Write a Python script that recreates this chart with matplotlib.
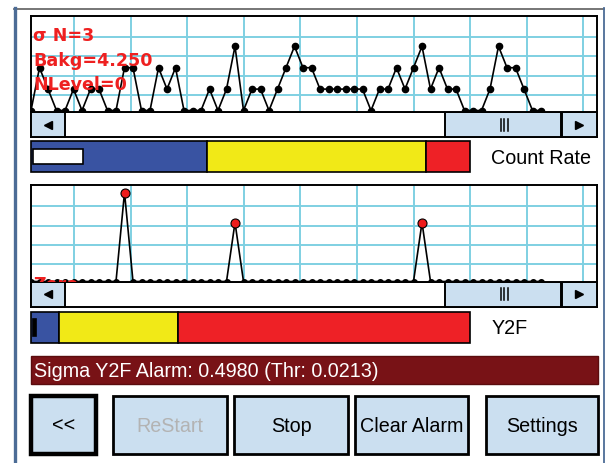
#!/usr/bin/env python3
# count rate / Y2F monitor screen

import numpy as np
import matplotlib.pyplot as plt
from matplotlib.patches import Rectangle

W, H = 608, 464

# --- data ---
count_rate = [0, 2, 1, 0, 0, 1, 0, 1, 1, 0, 0, 2, 2, 0, 0, 2, 1, 2, 0, 0,
              0, 1, 0, 1, 3, 0, 1, 1, 0, 1, 2, 3, 2, 2, 1, 1, 1, 1, 1, 1,
              0, 1, 1, 2, 1, 2, 3, 1, 2, 1, 1, 0, 0, 0, 1, 3, 2, 2, 1, 0, 0]
y2f = [0, 0, 0, 0, 0, 0, 0, 0, 0, 0, 0, 0.498, 0, 0, 0, 0, 0, 0, 0, 0,
       0, 0, 0, 0, 0.330, 0, 0, 0, 0, 0, 0, 0, 0, 0, 0, 0, 0, 0, 0, 0,
       0, 0, 0, 0, 0, 0, 0.330, 0, 0, 0, 0, 0, 0, 0, 0, 0, 0, 0, 0, 0, 0]
alarm_thr = 0.0213

info_lines = ["σ N=3", "Bakg=4.250", "NLevel=0"]
zero_label = "Zero"

count_rate_zones = [40.1, 49.9, 10.0]
count_rate_level = 11.4
y2f_zones = [6.4, 27.1, 66.5]
y2f_level = 0.7

bar_labels = ["Count Rate", "Y2F"]
alarm_text = "Sigma Y2F Alarm: 0.4980 (Thr: 0.0213)"
buttons = ["<<", "ReStart", "Stop", "Clear Alarm", "Settings"]

# --- styling ---
LIGHT = "#cbdff0"
GRID = "#7fd0e2"
RED_TXT = "#ee2020"
ZONE_COLORS = ["#3953a2", "#f1e917", "#ee2126"]

plt.rcParams["font.family"] = ["Liberation Sans", "DejaVu Sans"]

fig = plt.figure(figsize=(W / 100, H / 100), dpi=100)
canvas = fig.add_axes([0, 0, 1, 1])
canvas.set_xlim(0, W)
canvas.set_ylim(H, 0)
canvas.axis("off")


def box(x0, y0, x1, y1):
    return [x0 / W, 1 - y1 / H, (x1 - x0) / W, (y1 - y0) / H]


STEP = 8.5  # px per sample


def chart(y0, y1, ymin, ymax, grid_py):
    ax = fig.add_axes(box(31, y0, 597, y1))
    ax.set_xlim(0, 566 / STEP)
    ax.set_ylim(ymin, ymax)
    gx = [(px - 31) / STEP for px in 74 + 56.6 * np.arange(10)]
    gy = [ymin + (y1 - py) / (y1 - y0) * (ymax - ymin) for py in grid_py]
    ax.set_xticks(gx)
    ax.set_yticks(gy)
    ax.tick_params(length=0, labelbottom=False, labelleft=False)
    ax.grid(True, color=GRID, lw=1.4)
    ax.set_axisbelow(True)
    for s in ax.spines.values():
        s.set_linewidth(1.4)
    return ax


def scrollbar(y0, y1):
    h = y1 - y0
    ym = (y0 + y1) / 2
    canvas.add_patch(Rectangle((31, y0), 566, h, fc="white", ec="black", lw=1.4))
    canvas.add_patch(Rectangle((31, y0), 34, h, fc=LIGHT, ec="black", lw=1.4))
    canvas.add_patch(Rectangle((445, y0), 116, h, fc=LIGHT, ec="black", lw=1.4))
    canvas.add_patch(Rectangle((562, y0), 35, h, fc=LIGHT, ec="black", lw=1.4))
    canvas.plot([48], [ym], marker="<", ms=5.5, color="black")
    canvas.plot([579], [ym], marker=">", ms=5.5, color="black")
    for gxp in (500.5, 504, 507.5):
        canvas.plot([gxp, gxp], [ym - 6, ym + 6], color="black", lw=1.1)


def level_bar(y0, y1, zones, level, fc, frac):
    ax = fig.add_axes(box(31, y0, 470, y1))
    ax.set_xlim(0, 100)
    ax.set_ylim(0, 1)
    ax.axis("off")
    left = 0
    for w, c in zip(zones, ZONE_COLORS):
        ax.barh(0.5, w, left=left, height=1, color=c, edgecolor="black",
                lw=1.2, clip_on=False)
        left += w
    ax.barh(0.5, level, left=0.4, height=frac, color=fc, edgecolor="black",
            lw=1.2, clip_on=False)
    return ax


# frame
canvas.plot([14, 604], [9.5, 9.5], color="#6b6b6b", lw=1.3)
canvas.plot([14.5, 14.5], [9, H], color="#4c6c96", lw=2.4)
canvas.plot([603.5, 603.5], [9, H], color="#4c6c96", lw=1.3)

# count rate chart
x = np.arange(len(count_rate))
ax1 = chart(17, 113, -0.07, 4.416, [38.2, 57.4, 76.6, 95.8])
ax1.plot(x, count_rate, color="black", lw=1.2, marker="o", ms=4.5)
for txt, by in zip(info_lines, [41, 65.5, 90]):
    ax1.text(33, by, txt, transform=canvas.transData, color=RED_TXT,
             fontsize=12.6, fontweight="bold", family="DejaVu Sans",
             va="baseline", ha="left", zorder=5)
scrollbar(113, 138)

# Y2F chart
y2f_arr = np.array(y2f)
ax2 = chart(186, 282.5, 0.0, 0.540, [207.3, 226.5, 245.7, 264.9])
ax2.plot(x, y2f_arr, color="black", lw=1.2, zorder=3)
low = y2f_arr <= alarm_thr
ax2.plot(x[low], y2f_arr[low], ls="none", marker="o", ms=4, color="black", zorder=4)
ax2.plot(x[~low], y2f_arr[~low], ls="none", marker="o", ms=6.5, mfc="#ee1c1c",
         mec="black", mew=0.8, zorder=4)
zt = ax2.text(33, 290, zero_label, transform=canvas.transData, color=RED_TXT,
              fontsize=12.6, fontweight="bold", family="DejaVu Sans",
              va="baseline", ha="left", zorder=5, clip_on=True)
zt.set_clip_box(ax2.bbox)
scrollbar(282.5, 307.5)

# level bars
level_bar(142, 173, count_rate_zones, count_rate_level, "white", 0.48)
level_bar(313, 344, y2f_zones, y2f_level, "black", 0.55)
canvas.text(491, 159, bar_labels[0], fontsize=14.2, va="center", ha="left")
canvas.text(492, 329, bar_labels[1], fontsize=14.2, va="center", ha="left")

# alarm strip
canvas.add_patch(Rectangle((31, 357), 567, 28, fc="#781216", ec="#5a0c0e", lw=1))
canvas.text(34, 371.5, alarm_text, color="white", fontsize=14.2,
            va="center", ha="left")

# buttons
btn_x = [(31, 96), (113, 227), (234, 348), (355, 468), (486, 598)]
for label, (bx0, bx1) in zip(buttons, btn_x):
    lw = 3.2 if label == "<<" else 2.0
    canvas.add_patch(Rectangle((bx0, 397), bx1 - bx0, 58, fc=LIGHT,
                               ec="black", lw=lw))
    col = "#b3b3b3" if label == "ReStart" else "black"
    canvas.text((bx0 + bx1) / 2, 426.5, label, color=col, fontsize=14.2,
                ha="center", va="center")

fig.savefig("out.png", dpi=100)
